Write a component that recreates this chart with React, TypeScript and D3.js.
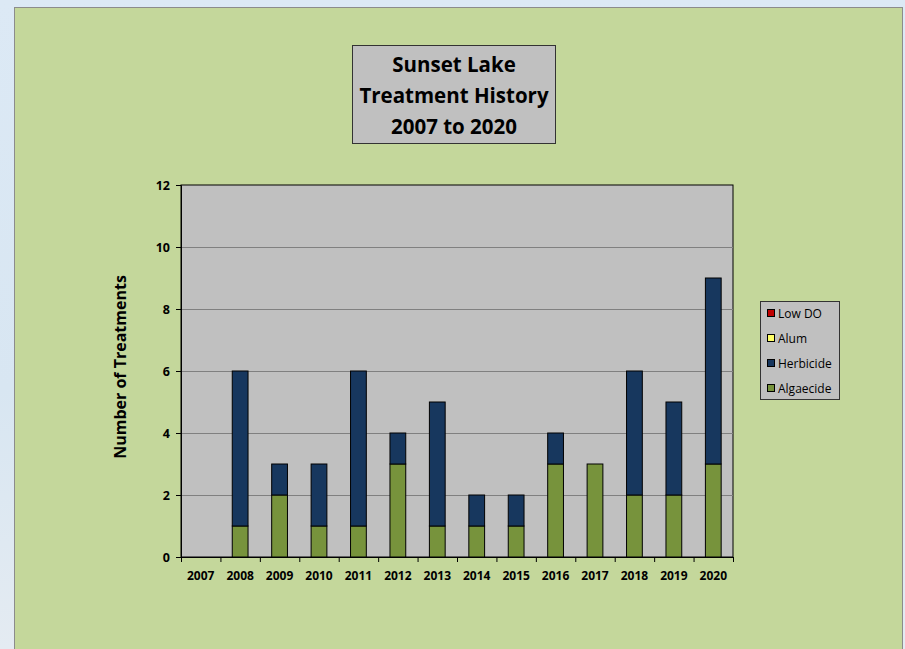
import React, { useEffect, useRef } from 'react';
import * as d3 from 'd3';

// Treatment counts per year
const YEARS = ['2007', '2008', '2009', '2010', '2011', '2012', '2013', '2014', '2015', '2016', '2017', '2018', '2019', '2020'];
const ALGAECIDE = [0, 1, 2, 1, 1, 3, 1, 1, 1, 3, 3, 2, 2, 3];
const HERBICIDE = [0, 5, 1, 2, 5, 1, 4, 1, 1, 1, 0, 4, 3, 6];
const ALUM = [0, 0, 0, 0, 0, 0, 0, 0, 0, 0, 0, 0, 0, 0];
const LOW_DO = [0, 0, 0, 0, 0, 0, 0, 0, 0, 0, 0, 0, 0, 0];

const SERIES = ['Algaecide', 'Herbicide', 'Alum', 'Low DO'];
const SERIES_COLORS: Record<string, string> = {
  'Algaecide': '#77933c',
  'Herbicide': '#17375e',
  'Alum': '#ffff66',
  'Low DO': '#c00000',
};
const TITLE_LINES = ['Sunset Lake', 'Treatment History', '2007 to 2020'];
const Y_TICKS = [0, 2, 4, 6, 8, 10, 12];

const FONT = "'Open Sans', 'Liberation Sans', sans-serif";

export default function App() {
  const svgRef = useRef<SVGSVGElement>(null);

  useEffect(() => {
    if (!svgRef.current) return;
    const width = 905;
    const height = 649;
    const svg = d3.select(svgRef.current);
    svg.selectAll('*').remove();

    // page background (light blue, a little paler at the bottom)
    const defs = svg.append('defs');
    const grad = defs.append('linearGradient').attr('id', 'bgGrad')
      .attr('x1', 0).attr('x2', 0).attr('y1', 0).attr('y2', 1);
    grad.append('stop').attr('offset', '0%').attr('stop-color', '#dce9f5');
    grad.append('stop').attr('offset', '60%').attr('stop-color', '#d8e6f2');
    grad.append('stop').attr('offset', '100%').attr('stop-color', '#e4ebf2');
    svg.append('rect').attr('width', width).attr('height', height).attr('fill', 'url(#bgGrad)');

    // green chart panel
    svg.append('rect')
      .attr('x', 14.5).attr('y', 7.5)
      .attr('width', 888).attr('height', 660)
      .attr('fill', '#c4d79b')
      .attr('stroke', '#8c8c8c')
      .attr('stroke-width', 1);

    const margin = { left: 181, top: 185, right: 733, bottom: 557 };

    const data = YEARS.map((year, i) => ({
      year,
      'Algaecide': ALGAECIDE[i],
      'Herbicide': HERBICIDE[i],
      'Alum': ALUM[i],
      'Low DO': LOW_DO[i],
    }));

    const x = d3.scaleBand().domain(YEARS).range([margin.left, margin.right]).paddingInner(0.6).paddingOuter(0.3);
    const xCat = d3.scaleBand().domain(YEARS).range([margin.left, margin.right]);
    const y = d3.scaleLinear().domain([0, 12]).range([margin.bottom, margin.top]);

    // plot area
    svg.append('rect')
      .attr('x', margin.left).attr('y', margin.top)
      .attr('width', margin.right - margin.left)
      .attr('height', margin.bottom - margin.top)
      .attr('fill', '#c0c0c0')
      .attr('stroke', '#000')
      .attr('stroke-width', 1);

    // gridlines
    svg.append('g')
      .selectAll('line')
      .data(Y_TICKS.filter(t => t > 0 && t < 12))
      .enter()
      .append('line')
      .attr('x1', margin.left).attr('x2', margin.right)
      .attr('y1', d => Math.round(y(d)) + 0.5).attr('y2', d => Math.round(y(d)) + 0.5)
      .attr('stroke', '#808080')
      .attr('stroke-width', 1);

    // stacked bars
    const stack = d3.stack<any>().keys(SERIES)(data);
    svg.append('g')
      .selectAll('g')
      .data(stack)
      .enter()
      .append('g')
      .attr('fill', d => SERIES_COLORS[d.key])
      .selectAll('rect')
      .data(d => d.filter(p => p[1] - p[0] > 0))
      .enter()
      .append('rect')
      .attr('x', d => (x(d.data.year) as number))
      .attr('width', x.bandwidth())
      .attr('y', d => y(d[1]))
      .attr('height', d => y(d[0]) - y(d[1]))
      .attr('stroke', '#000')
      .attr('stroke-width', 1);

    // y axis
    const yAxis = svg.append('g')
      .attr('transform', `translate(${margin.left},0)`)
      .call(d3.axisLeft(y).tickValues(Y_TICKS).tickSize(5).tickPadding(6));
    yAxis.select('.domain').attr('stroke', '#000');
    yAxis.selectAll('text')
      .style('font-family', FONT)
      .style('font-size', '12.5px')
      .style('font-weight', '700')
      .style('fill', '#000');

    // x axis, ticks on category boundaries
    const xAxisG = svg.append('g').attr('transform', `translate(0,${margin.bottom})`);
    xAxisG.append('line')
      .attr('x1', margin.left).attr('x2', margin.right)
      .attr('y1', 0.5).attr('y2', 0.5)
      .attr('stroke', '#000');
    xAxisG.selectAll('.xtick')
      .data(YEARS.concat(['end']))
      .enter()
      .append('line')
      .attr('x1', (d, i) => (i < YEARS.length ? (xCat(d) as number) : margin.right) + 0.5)
      .attr('x2', (d, i) => (i < YEARS.length ? (xCat(d) as number) : margin.right) + 0.5)
      .attr('y1', 0).attr('y2', 5)
      .attr('stroke', '#000');
    xAxisG.selectAll('.xlabel')
      .data(YEARS)
      .enter()
      .append('text')
      .attr('x', d => (xCat(d) as number) + xCat.bandwidth() / 2)
      .attr('y', 23)
      .attr('text-anchor', 'middle')
      .style('font-family', FONT)
      .style('font-size', '12px')
      .style('font-weight', '700')
      .text(d => d);

    // y label
    svg.append('text')
      .attr('transform', `translate(126,${(margin.top + margin.bottom) / 2 - 4}) rotate(-90)`)
      .attr('text-anchor', 'middle')
      .style('font-family', FONT)
      .style('font-size', '16px')
      .style('font-weight', '700')
      .text('Number of Treatments');

    // title box
    svg.append('rect')
      .attr('x', 352.5).attr('y', 45.5)
      .attr('width', 203).attr('height', 98)
      .attr('fill', '#c0c0c0')
      .attr('stroke', '#333')
      .attr('stroke-width', 1);
    svg.append('g')
      .selectAll('text')
      .data(TITLE_LINES)
      .enter()
      .append('text')
      .attr('x', 454)
      .attr('y', (d, i) => 72 + i * 31)
      .attr('text-anchor', 'middle')
      .style('font-family', FONT)
      .style('font-size', '20.5px')
      .style('font-weight', '700')
      .text(d => d);

    // legend
    svg.append('rect')
      .attr('x', 760.5).attr('y', 301.5)
      .attr('width', 79).attr('height', 98)
      .attr('fill', '#c0c0c0')
      .attr('stroke', '#333');
    const legendItems = SERIES.slice().reverse();
    const lg = svg.append('g')
      .selectAll('g')
      .data(legendItems)
      .enter()
      .append('g')
      .attr('transform', (d, i) => `translate(767,${313 + i * 25})`);
    lg.append('rect')
      .attr('x', 0.5).attr('y', -3.5)
      .attr('width', 7).attr('height', 7)
      .attr('fill', d => SERIES_COLORS[d])
      .attr('stroke', '#000');
    lg.append('text')
      .attr('x', 11)
      .attr('y', 4.5)
      .style('font-family', FONT)
      .style('font-size', '12px')
      .text(d => d);
  }, []);

  return (
    <div style={{ position: 'absolute', left: 0, top: 0 }}>
      <svg ref={svgRef} width={905} height={649} style={{ display: 'block' }} />
    </div>
  );
}
